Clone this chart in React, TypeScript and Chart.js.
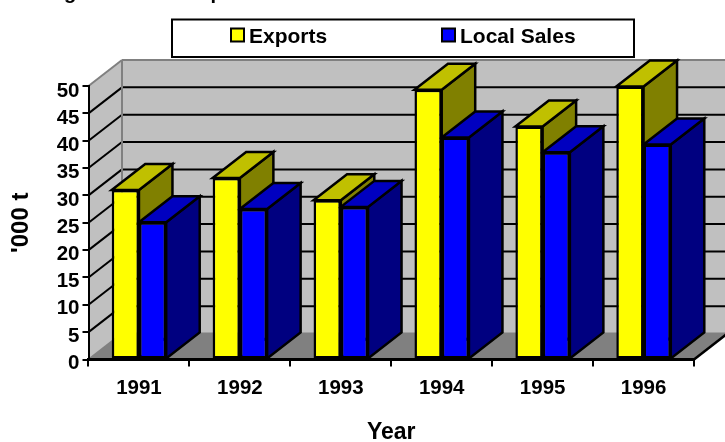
import { useEffect, useRef } from "react";
import { Chart, registerables } from "chart.js";

Chart.register(...registerables);

const years = ["1991", "1992", "1993", "1994", "1995", "1996"];
const exportsValues = [31, 33.2, 29.1, 49.3, 42.6, 49.9];
const localSalesValues = [25.1, 27.5, 27.9, 40.6, 37.9, 39.3];
const yTickStep = 5;
const yMax = 50;

const FONT = '"Liberation Sans", Arial, sans-serif';
const DEPTH_X = 33.5;
const DEPTH_Y = 26;
const EDGE = 2.5;
const faces = [
  { top: "#c0c000", side: "#808000" },
  { top: "#0000c0", side: "#000080" },
];

function poly(ctx: CanvasRenderingContext2D, pts: number[][], fill: string | null, stroke: string | null, lw = 2) {
  ctx.beginPath();
  pts.forEach((p, i) => (i ? ctx.lineTo(p[0], p[1]) : ctx.moveTo(p[0], p[1])));
  ctx.closePath();
  if (fill) {
    ctx.fillStyle = fill;
    ctx.fill();
  }
  if (stroke) {
    ctx.strokeStyle = stroke;
    ctx.lineWidth = lw;
    ctx.lineJoin = "miter";
    ctx.stroke();
  }
}

function line(ctx: CanvasRenderingContext2D, x1: number, y1: number, x2: number, y2: number, color: string, lw = 2) {
  ctx.beginPath();
  ctx.moveTo(x1, y1);
  ctx.lineTo(x2, y2);
  ctx.strokeStyle = color;
  ctx.lineWidth = lw;
  ctx.stroke();
}

const scene3d = {
  id: "scene3d",
  beforeDraw(chart: any) {
    const { ctx, chartArea: a, scales } = chart;
    const dx = DEPTH_X;
    const dy = DEPTH_Y;
    // the value labels sit a little below their tick marks in the reference
    if (!chart.$labelsShifted) {
      scales.y.getLabelItems(a).forEach((item: any) => {
        item.options.translation[1] += 3.7 + (1.3 * Number(item.label)) / yMax;
      });
      chart.$labelsShifted = true;
    }
    ctx.save();
    // floor
    poly(ctx, [[a.left, a.bottom], [a.right, a.bottom], [a.right + dx, a.bottom - dy], [a.left + dx, a.bottom - dy]], "#808080", null);
    // side wall and back wall
    poly(ctx, [[a.left, a.top], [a.left + dx, a.top - dy], [a.left + dx, a.bottom - dy], [a.left, a.bottom]], "#c0c0c0", null);
    poly(ctx, [[a.left + dx, a.top - dy], [a.right + dx, a.top - dy], [a.right + dx, a.bottom - dy], [a.left + dx, a.bottom - dy]], "#c0c0c0", null);
    // gridlines
    scales.y.ticks.forEach((t: any) => {
      const y = scales.y.getPixelForValue(t.value);
      const edge = t.value === 0 || t.value === yMax;
      const c = edge ? "#808080" : "#000000";
      line(ctx, a.left, y, a.left + dx, y - dy, c);
      line(ctx, a.left + dx, y - dy, a.right + dx, y - dy, c, 2);
    });
    line(ctx, a.left + dx, a.top - dy, a.left + dx, a.bottom - dy, "#808080", 2);
    // right floor edge
    line(ctx, a.right, a.bottom, a.right + dx, a.bottom - dy, "#000000", EDGE);
    ctx.restore();
  },
  beforeDatasetsDraw(chart: any) {
    const { ctx } = chart;
    const dx = DEPTH_X;
    const dy = DEPTH_Y;
    ctx.save();
    years.forEach((_, i) => {
      faces.forEach((f, ds) => {
        const el = chart.getDatasetMeta(ds).data[i];
        const l = el.x - el.width / 2;
        const r = el.x + el.width / 2;
        const y = el.y;
        const b = el.base;
        poly(ctx, [[r, y], [r + dx, y - dy], [r + dx, b - dy], [r, b]], f.side, "#000000", EDGE);
        poly(ctx, [[l, y], [l + dx, y - dy], [r + dx, y - dy], [r, y]], f.top, "#000000", EDGE);
      });
    });
    ctx.restore();
  },
  afterDraw(chart: any) {
    const { ctx } = chart;
    ctx.save();
    // legend frame and entries, from the datasets
    poly(ctx, [[172, 19.5], [634, 19.5], [634, 57], [172, 57]], "#ffffff", "#000000", 2);
    const xs = [[231, 249], [442, 460]];
    chart.data.datasets.forEach((d: any, i: number) => {
      poly(ctx, [[xs[i][0], 28.5], [xs[i][0] + 13, 28.5], [xs[i][0] + 13, 41.5], [xs[i][0], 41.5]], d.backgroundColor, "#000000", 2);
      ctx.fillStyle = "#000000";
      ctx.font = `bold 21px ${FONT}`;
      ctx.textAlign = "left";
      ctx.textBaseline = "alphabetic";
      ctx.fillText(d.label, xs[i][1], 42.5);
    });
    // the title runs off the top of the picture: only these descenders remain
    ctx.font = `bold 20px ${FONT}`;
    ctx.fillText("g", 64, -1.5);
    ctx.fillText("p", 210.5, -1.5);
    ctx.restore();
  },
};

export default function App() {
  const ref = useRef<HTMLCanvasElement>(null);
  useEffect(() => {
    const chart = new Chart(ref.current as HTMLCanvasElement, {
      type: "bar",
      data: {
        labels: years,
        datasets: [
          { label: "Exports", data: exportsValues, backgroundColor: "#ffff00", borderColor: "#000000", borderWidth: EDGE, borderSkipped: false, clip: false },
          { label: "Local Sales", data: localSalesValues, backgroundColor: "#0000ff", borderColor: "#000000", borderWidth: EDGE, borderSkipped: false, clip: false },
        ],
      } as any,
      options: {
        responsive: false,
        animation: false,
        layout: { padding: { left: 0, right: 31, top: 86, bottom: 0 } },
        datasets: { bar: { categoryPercentage: 0.54, barPercentage: 1 } },
        plugins: { legend: { display: false }, title: { display: false }, tooltip: { enabled: false } },
        scales: {
          x: {
            afterFit: (s: any) => { s.height = 82.5; },
            grid: { drawOnChartArea: false, drawTicks: true, tickLength: 7, color: "#000000", lineWidth: 2 },
            border: { color: "#000000", width: 3 },
            ticks: { color: "#000000", font: { family: FONT, size: 20.5, weight: "bold" }, padding: 10, maxRotation: 0, autoSkip: false },
            title: { display: true, text: "Year", color: "#000000", font: { family: FONT, size: 23, weight: "bold" }, padding: { top: 0, bottom: -4 } },
          },
          y: {
            min: 0,
            max: yMax,
            afterFit: (s: any) => { s.width = 88.5; },
            grid: { drawOnChartArea: false, drawTicks: true, tickLength: 6, color: "#000000", lineWidth: 2 },
            border: { color: "#000000", width: 2 },
            ticks: { stepSize: yTickStep, autoSkip: false, color: "#000000", font: { family: FONT, size: 20.5, weight: "bold" }, padding: 3 },
            title: { display: true, text: "'000 t", color: "#000000", font: { family: FONT, size: 24, weight: "bold" }, padding: { top: 7, bottom: 0 } },
          },
        },
      } as any,
      plugins: [scene3d],
    });
    return () => chart.destroy();
  }, []);
  return (
    <div style={{ position: "absolute", left: 0, top: 0, width: 725, height: 442, overflow: "hidden", background: "#ffffff" }}>
      <canvas ref={ref} width={725} height={442} style={{ display: "block" }} />
    </div>
  );
}
